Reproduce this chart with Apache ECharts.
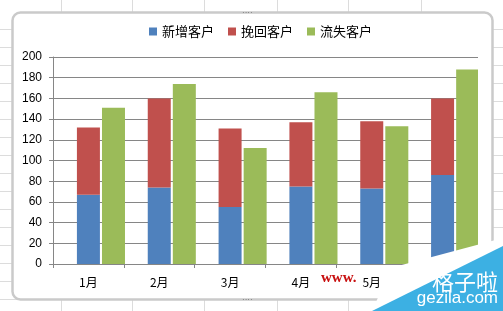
<!DOCTYPE html>
<html><head><meta charset="utf-8">
<style>html,body{margin:0;padding:0;background:#fff}#c{width:503px;height:311px}</style>
<script src="https://cdn.jsdelivr.net/npm/echarts@6/dist/echarts.min.js"></script>
</head><body><div id="c"></div>
<script>
var categories = ['1月','2月','3月','4月','5月','6月'];
var newCustomers = [67, 74, 55, 75, 73, 86];
var wonBack = [65, 86, 76, 62, 65, 74];
var lost = [151, 174, 112, 166, 133, 188];
var seriesNames = ['新增客户','挽回客户','流失客户'];

var chart = echarts.init(document.getElementById('c'), null, {renderer:'canvas'});
var font = '"Noto Sans CJK SC","Liberation Sans",sans-serif';
var gridLineColor = '#dcdcdc';
var sheet = [];
[61,132,204,277,348,421].forEach(function(x){
  sheet.push({type:'line', z:-10, shape:{x1:x+0.5,y1:0,x2:x+0.5,y2:311}, style:{stroke:gridLineColor,lineWidth:1}});
});
for (var y = 29; y < 311; y += 18) {
  sheet.push({type:'line', z:-10, shape:{x1:0,y1:y+0.5,x2:503,y2:y+0.5}, style:{stroke:gridLineColor,lineWidth:1}});
}
var graphics = sheet.concat([
  {type:'rect', z:-5, shape:{x:12.5,y:12.5,width:480,height:287,r:8}, style:{fill:'#fff',stroke:'#cacaca',lineWidth:2.5}},
  {type:'text', z:5, left:242, top:9, style:{text:'····',fill:'#777',font:'8px sans-serif'}},
  {type:'text', z:5, left:242, top:296, style:{text:'····',fill:'#777',font:'8px sans-serif'}},
  {type:'polygon', z:50, shape:{points:[[398,266],[503,238],[503,311],[372,311],[385,282]]}, style:{fill:'#ffffff'}},
  {type:'polygon', z:51, shape:{points:[[372,311],[503,246],[503,311]]}, style:{fill:'#3cb0e3'}},
  {type:'text', z:52, right:5, top:271, style:{text:'格子啦',fill:'#fff',font:'22px "Noto Sans CJK SC",sans-serif'}},
  {type:'text', z:52, right:5, top:290, style:{text:'gezila.com',fill:'#fff',font:'17px "Liberation Sans",sans-serif'}},
  {type:'text', z:53, left:321, top:271, style:{text:'www.',fill:'#c81010',font:'bold 15px "Liberation Serif",serif'}}
]);

chart.setOption({
  animation:false,
  backgroundColor:'#fff',
  textStyle:{fontFamily:font},
  graphic:graphics,
  legend:{
    data:seriesNames, left:144, top:20, itemWidth:8, itemHeight:8, itemGap:14,
    icon:'rect', textStyle:{fontSize:13,color:'#000',fontFamily:font}
  },
  grid:{left:53, right:25, top:57, bottom:47, containLabel:false},
  xAxis:{
    type:'category', data:categories,
    axisLine:{lineStyle:{color:'#868686'}},
    axisTick:{show:true,length:4,lineStyle:{color:'#868686'}},
    axisLabel:{color:'#000',fontSize:12,margin:12,fontFamily:font}
  },
  yAxis:{
    type:'value', min:0, max:200, interval:20,
    axisLine:{show:true,lineStyle:{color:'#868686'}},
    axisTick:{show:true,length:4,lineStyle:{color:'#868686'}},
    axisLabel:{color:'#000',fontSize:12,margin:11,fontFamily:'"Liberation Sans",sans-serif'},
    splitLine:{lineStyle:{color:'#868686'}}
  },
  series:[
    {name:'_pad', type:'bar', barWidth:23, barGap:'9%', data:categories.map(function(){return null;}), silent:true},
    {name:seriesNames[0], type:'bar', stack:'s', barWidth:23, data:newCustomers, itemStyle:{color:'#4f81bd'}},
    {name:seriesNames[1], type:'bar', stack:'s', barWidth:23, data:wonBack, itemStyle:{color:'#c0504d'}},
    {name:seriesNames[2], type:'bar', barWidth:23, data:lost, itemStyle:{color:'#9bbb59'}}
  ]
});
</script></body></html>
